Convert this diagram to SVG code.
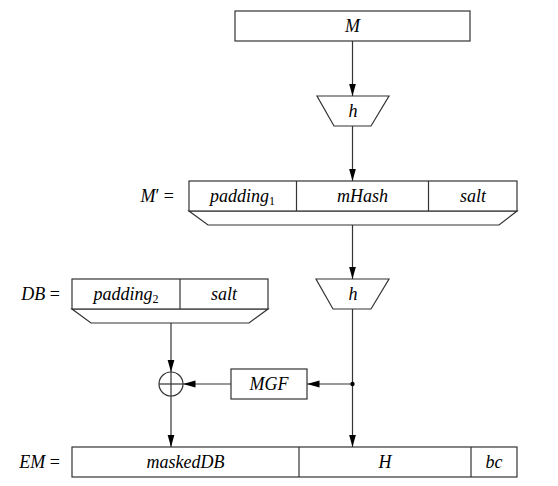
<svg xmlns="http://www.w3.org/2000/svg" width="558" height="486" viewBox="0 0 558 486">
<style>
.b{fill:#fff;stroke:#333;stroke-width:1.2}
.l{fill:none;stroke:#333;stroke-width:1.2}
text{font-family:"Liberation Serif","Times New Roman",serif;font-size:18px;font-style:italic;fill:#000}
.c{text-anchor:middle}
.e{text-anchor:end}
.r{font-style:normal}
.s{font-size:12px;font-style:normal}
</style>
<defs>
<marker id="ah" markerUnits="userSpaceOnUse" markerWidth="13" markerHeight="8" refX="12.5" refY="3.5" orient="auto">
<path d="M0,0 L12.5,3.5 L0,7 z" fill="#000"/>
</marker>
</defs>
<g id="connectors">
<line class="l" x1="352.5" y1="41" x2="352.5" y2="96" marker-end="url(#ah)"/>
<line class="l" x1="352.5" y1="126" x2="352.5" y2="181" marker-end="url(#ah)"/>
<line class="l" x1="352.5" y1="225" x2="352.5" y2="279" marker-end="url(#ah)"/>
<line class="l" x1="352.5" y1="309" x2="352.5" y2="447" marker-end="url(#ah)"/>
<line class="l" x1="352.5" y1="384" x2="307" y2="384" marker-end="url(#ah)"/>
<line class="l" x1="231" y1="384" x2="183" y2="384" marker-end="url(#ah)"/>
<line class="l" x1="171" y1="323" x2="171" y2="372" marker-end="url(#ah)"/>
<line class="l" x1="171" y1="396" x2="171" y2="447" marker-end="url(#ah)"/>
<circle cx="352.5" cy="384" r="2.2" fill="#000"/>
</g>
<g id="M">
<rect class="b" x="235" y="11" width="235" height="30"/>
<text class="c" x="352.5" y="32">M</text>
</g>
<g id="h1">
<polygon class="b" points="317,96 389,96 371,126 334,126"/>
<text class="c" x="353" y="117">h</text>
</g>
<g id="Mprime">
<text class="e" x="174" y="202">M<tspan class="r">′ =</tspan></text>
<polygon class="b" points="189,211 517,211 499,225 208,225"/>
<rect class="b" x="189" y="181" width="328" height="30"/>
<line class="l" x1="296.5" y1="181" x2="296.5" y2="211"/>
<line class="l" x1="428.5" y1="181" x2="428.5" y2="211"/>
<text class="c" x="242.5" y="202">padding<tspan class="s" dy="3">1</tspan></text>
<text class="c" x="362.5" y="202">mHash</text>
<text class="c" x="473" y="202">salt</text>
</g>
<g id="h2">
<polygon class="b" points="316,279 389,279 371,309 333,309"/>
<text class="c" x="353" y="300">h</text>
</g>
<g id="DB">
<text class="e" x="60" y="300">DB<tspan class="r"> =</tspan></text>
<polygon class="b" points="72,309 268,309 249,323 91,323"/>
<rect class="b" x="72" y="279" width="196" height="30"/>
<line class="l" x1="180" y1="279" x2="180" y2="309"/>
<text class="c" x="126" y="300">padding<tspan class="s" dy="3">2</tspan></text>
<text class="c" x="224" y="300">salt</text>
</g>
<g id="xor">
<circle class="b" cx="171" cy="384" r="12"/>
<line class="l" x1="159" y1="384" x2="183" y2="384"/>
<line class="l" x1="171" y1="372" x2="171" y2="396"/>
</g>
<g id="MGF">
<rect class="b" x="231" y="369" width="76" height="30"/>
<text class="c" x="269" y="390">MGF</text>
</g>
<g id="EM">
<text class="e" x="60" y="468">EM<tspan class="r"> =</tspan></text>
<rect class="b" x="72" y="447" width="445" height="30"/>
<line class="l" x1="299" y1="447" x2="299" y2="477"/>
<line class="l" x1="471" y1="447" x2="471" y2="477"/>
<text class="c" x="185.5" y="468">maskedDB</text>
<text class="c" x="385" y="468">H</text>
<text class="c" x="494" y="468">bc</text>
</g>
</svg>
